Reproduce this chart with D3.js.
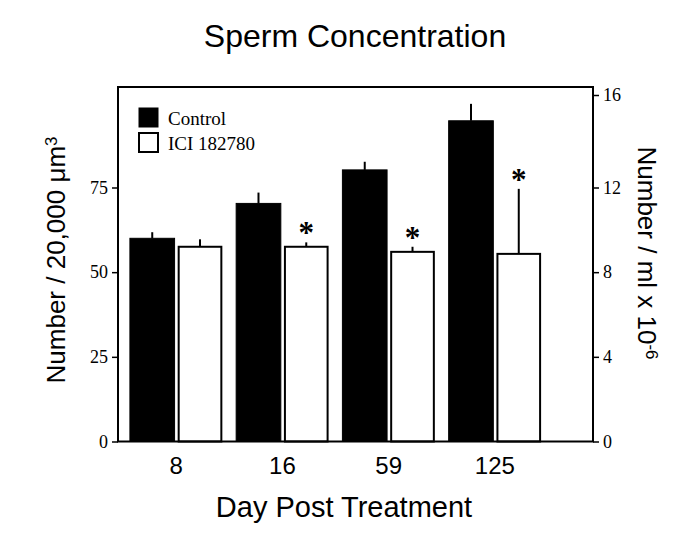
<!DOCTYPE html>
<html>
<head>
<meta charset="utf-8">
<script src="https://cdn.jsdelivr.net/npm/d3@7"></script>
<style>
  html, body { margin: 0; padding: 0; background: #ffffff; }
  svg { display: block; }
</style>
</head>
<body>
<script>
// ---- data ----
const days = ["8", "16", "59", "125"];
const seriesNames = ["Control", "ICI 182780"];
const controlMeans = [60.0, 70.3, 80.2, 94.7];
const controlSEM = [1.8, 3.2, 2.4, 5.0];
const iciMeans = [57.5, 57.5, 56.0, 55.4];
const iciSEM = [2.2, 1.3, 1.5, 19.2];
const significant = [false, true, true, true];
const leftTicks = [0, 25, 50, 75];
const rightTicks = [0, 4, 8, 12, 16];

const W = 685, H = 544;
const frame = { left: 118, right: 593, top: 87, bottom: 441.5 };

const svg = d3.select("body").append("svg")
  .attr("width", W).attr("height", H)
  .style("background", "#ffffff");

const sans = "'Liberation Sans', Arial, sans-serif";
const serif = "'Liberation Serif', 'Times New Roman', serif";

// scales
const y = d3.scaleLinear().domain([0, 75]).range([frame.bottom, 187.5]);
const yR = d3.scaleLinear().domain([0, 12, 16]).range([y(0), y(75), frame.top + 8]);
const x0 = d3.scaleBand().domain(days).range([123, 548]).paddingInner(0.13).paddingOuter(0.065);
const x1 = d3.scaleBand().domain(seriesNames).range([0, x0.bandwidth()]).paddingInner(0.065);

const rows = days.map((d, i) => ({
  day: d,
  bars: [
    { series: seriesNames[0], mean: controlMeans[i], sem: controlSEM[i], star: false },
    { series: seriesNames[1], mean: iciMeans[i], sem: iciSEM[i], star: significant[i] }
  ]
}));

// bars
const groups = svg.append("g").selectAll("g").data(rows).join("g")
  .attr("transform", d => `translate(${x0(d.day)},0)`);

groups.selectAll("line.err").data(d => d.bars).join("line")
  .attr("class", "err")
  .attr("x1", d => x1(d.series) + x1.bandwidth() / 2)
  .attr("x2", d => x1(d.series) + x1.bandwidth() / 2)
  .attr("y1", d => y(d.mean))
  .attr("y2", d => y(d.mean + d.sem))
  .attr("stroke", "#000").attr("stroke-width", 2);

groups.selectAll("rect").data(d => d.bars).join("rect")
  .attr("x", d => x1(d.series) + (d.series === seriesNames[1] ? 1 : 0))
  .attr("width", d => x1.bandwidth() - (d.series === seriesNames[1] ? 2 : 0))
  .attr("y", d => y(d.mean))
  .attr("height", d => y(0) - y(d.mean))
  .attr("fill", d => d.series === seriesNames[0] ? "#000" : "#fff")
  .attr("stroke", "#000")
  .attr("stroke-width", d => d.series === seriesNames[0] ? 1 : 2);

groups.selectAll("text.star").data(d => d.bars.filter(b => b.star)).join("text")
  .attr("class", "star")
  .attr("x", d => x1(d.series) + x1.bandwidth() / 2)
  .attr("y", d => y(d.mean + d.sem) + 1)
  .attr("text-anchor", "middle")
  .attr("font-family", serif)
  .attr("font-weight", "bold")
  .attr("font-size", 31)
  .attr("fill", "#000")
  .text("*");

// frame
svg.append("rect")
  .attr("x", frame.left).attr("y", frame.top)
  .attr("width", frame.right - frame.left)
  .attr("height", frame.bottom - frame.top)
  .attr("fill", "none").attr("stroke", "#000").attr("stroke-width", 2);

// left axis
const gL = svg.append("g").attr("transform", `translate(${frame.left},0)`)
  .call(d3.axisLeft(y).tickValues(leftTicks).tickSize(6).tickPadding(4));
gL.select(".domain").remove();
gL.selectAll("line").attr("stroke-width", 1.5);
gL.selectAll("text").attr("font-family", serif).attr("font-size", 18).attr("fill", "#000");

// right axis
const gR = svg.append("g").attr("transform", `translate(${frame.right},0)`)
  .call(d3.axisRight(yR).tickValues(rightTicks).tickSize(6).tickPadding(4));
gR.select(".domain").remove();
gR.selectAll("line").attr("stroke-width", 1.5);
gR.selectAll("text").attr("font-family", serif).attr("font-size", 18).attr("fill", "#000");

// bottom axis (labels only)
const gB = svg.append("g").attr("transform", `translate(0,${frame.bottom})`)
  .call(d3.axisBottom(x0).tickSize(0));
gB.select(".domain").remove();
gB.selectAll("text")
  .attr("y", 32).attr("dy", 0)
  .attr("font-family", sans).attr("font-size", 24).attr("fill", "#000");

// legend
const legend = svg.append("g").attr("transform", "translate(139,108)");
const leg = legend.selectAll("g").data(seriesNames).join("g")
  .attr("transform", (d, i) => `translate(0,${i * 25})`);
leg.append("rect")
  .attr("x", 0).attr("y", 0).attr("width", 19).attr("height", 19)
  .attr("fill", (d, i) => i === 0 ? "#000" : "#fff")
  .attr("stroke", "#000").attr("stroke-width", (d, i) => i === 0 ? 1 : 2);
leg.append("text")
  .attr("x", 29).attr("y", 16.5)
  .attr("font-family", serif).attr("font-size", 19).attr("fill", "#000")
  .text(d => d);

// title
svg.append("text")
  .attr("x", 355).attr("y", 46.5)
  .attr("text-anchor", "middle")
  .attr("font-family", sans).attr("font-size", 32).attr("fill", "#000")
  .text("Sperm Concentration");

// x title
svg.append("text")
  .attr("x", 344).attr("y", 516.5)
  .attr("text-anchor", "middle")
  .attr("font-family", sans).attr("font-size", 29).attr("fill", "#000")
  .text("Day Post Treatment");

// left y title
const lt = svg.append("text")
  .attr("transform", "translate(65,260) rotate(-90)")
  .attr("text-anchor", "middle")
  .attr("font-family", sans).attr("font-size", 26).attr("fill", "#000");
lt.append("tspan").text("Number / 20,000 μm");
lt.append("tspan").attr("dy", "-0.45em").attr("font-size", "0.65em").text("3");

// right y title
const rt = svg.append("text")
  .attr("transform", "translate(638,253) rotate(90)")
  .attr("text-anchor", "middle")
  .attr("font-family", sans).attr("font-size", 26).attr("fill", "#000");
rt.append("tspan").text("Number / ml x 10");
rt.append("tspan").attr("dy", "-0.45em").attr("font-size", "0.65em").text("-6");
</script>
</body>
</html>
